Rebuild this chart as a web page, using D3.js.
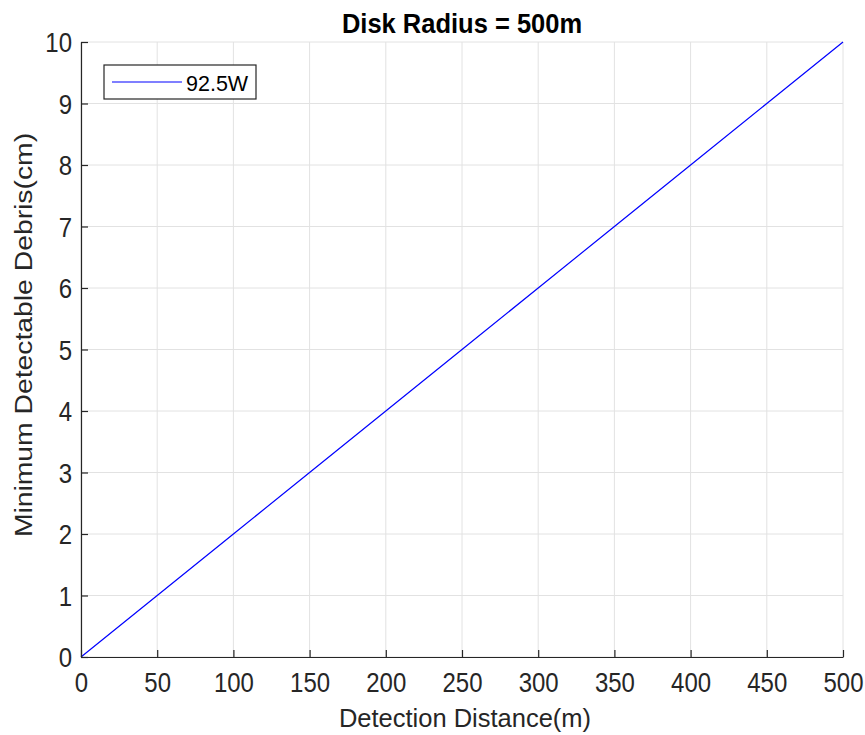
<!DOCTYPE html>
<html>
<head>
<meta charset="utf-8">
<script src="https://cdn.jsdelivr.net/npm/d3@7"></script>
<style>
  body { margin: 0; background: #fff; }
  text { font-family: "Liberation Sans", Arial, sans-serif; }
</style>
</head>
<body>
<div id="chart"></div>
<script>
// chart values
const distances = [0, 50, 100, 150, 200, 250, 300, 350, 400, 450, 500];
const debrisSize = [0, 1, 2, 3, 4, 5, 6, 7, 8, 9, 10];
const xTicks = [0, 50, 100, 150, 200, 250, 300, 350, 400, 450, 500];
const yTicks = [0, 1, 2, 3, 4, 5, 6, 7, 8, 9, 10];
const seriesName = "92.5W";
const chartTitle = "Disk Radius = 500m";
const xLabel = "Detection Distance(m)";
const yLabel = "Minimum Detectable Debris(cm)";

const containerWidth = 865;
const containerHeight = 735;
var margin = { top: 42, right: 22, bottom: 78, left: 81 };
var width = containerWidth - margin.left - margin.right;
var height = containerHeight - margin.top - margin.bottom;

// text in the original picture is a little taller than it is wide
const tickStretch = 1.15;
const labelStretch = 1.18;

var svg = d3
  .select("#chart")
  .append("svg")
  .attr("width", containerWidth)
  .attr("height", containerHeight)
  .append("g")
  .attr("transform", "translate(" + margin.left + "," + margin.top + ")");

const xScale = d3.scaleLinear().domain([0, 500]).range([0, width]);
const yScale = d3.scaleLinear().domain([0, 10]).range([height, 0]);

// grid lines
svg.append("g")
  .selectAll("line")
  .data(xTicks)
  .enter()
  .append("line")
  .attr("x1", (d) => xScale(d))
  .attr("x2", (d) => xScale(d))
  .attr("y1", 0)
  .attr("y2", height)
  .attr("stroke", "#e2e2e2")
  .attr("stroke-width", 1);

svg.append("g")
  .selectAll("line")
  .data(yTicks)
  .enter()
  .append("line")
  .attr("x1", 0)
  .attr("x2", width)
  .attr("y1", (d) => yScale(d))
  .attr("y2", (d) => yScale(d))
  .attr("stroke", "#e2e2e2")
  .attr("stroke-width", 1);

// the line
const line = d3
  .line()
  .x((d, i) => xScale(distances[i]))
  .y((d) => yScale(d));

svg.append("path")
  .datum(debrisSize)
  .attr("d", line)
  .attr("fill", "none")
  .attr("stroke", "#0000ff")
  .attr("stroke-width", 1.2);

// axes with inward ticks
const xAxis = d3.axisBottom(xScale).tickValues(xTicks).tickSizeInner(-7).tickSizeOuter(0);
const yAxis = d3.axisLeft(yScale).tickValues(yTicks).tickSizeInner(-7).tickSizeOuter(0).tickPadding(9);

const gx = svg.append("g")
  .attr("class", "x-axis")
  .attr("transform", "translate(0," + height + ")")
  .call(xAxis);
const gy = svg.append("g").attr("class", "y-axis").call(yAxis);

[gx, gy].forEach((g) => {
  g.selectAll("path").attr("stroke", "#262626").attr("stroke-width", 1.2);
  g.selectAll("line").attr("stroke", "#262626").attr("stroke-width", 1.2);
  g.selectAll("text")
    .attr("fill", "#262626")
    .style("font-size", "24px");
});

gx.selectAll("text")
  .attr("dy", null)
  .attr("y", 35 / tickStretch)
  .attr("transform", "scale(1," + tickStretch + ")");
gy.selectAll("text")
  .attr("dy", "0.36em")
  .attr("transform", "scale(1," + tickStretch + ")");

// title and labels
svg.append("text")
  .attr("transform", "translate(" + (width / 2) + "," + (33 - margin.top) + ") scale(1,1.06)")
  .attr("text-anchor", "middle")
  .attr("font-weight", "bold")
  .style("font-size", "25.5px")
  .attr("fill", "#000")
  .text(chartTitle);

svg.append("text")
  .attr("transform", "translate(" + (465 - margin.left) + "," + (727 - margin.top) + ") scale(1,1.04)")
  .attr("text-anchor", "middle")
  .style("font-size", "25.5px")
  .attr("fill", "#262626")
  .text(xLabel);

svg.append("text")
  .attr("transform", "translate(" + (32 - margin.left) + "," + (335 - margin.top) + ") rotate(-90) scale(" + labelStretch + ",1)")
  .attr("text-anchor", "middle")
  .style("font-size", "24px")
  .attr("fill", "#262626")
  .text(yLabel);

// legend
const legend = svg.append("g").attr("transform", "translate(" + (104 - margin.left) + "," + (65 - margin.top) + ")");
legend.append("rect")
  .attr("width", 152)
  .attr("height", 34)
  .attr("fill", "#fff")
  .attr("stroke", "#262626")
  .attr("stroke-width", 1.2);
legend.append("line")
  .attr("x1", 8)
  .attr("x2", 78)
  .attr("y1", 17)
  .attr("y2", 17)
  .attr("stroke", "#0000ff")
  .attr("stroke-width", 1.2);
legend.append("text")
  .attr("x", 82)
  .attr("y", 26)
  .style("font-size", "21.5px")
  .attr("fill", "#000")
  .text(seriesName);
</script>
</body>
</html>
